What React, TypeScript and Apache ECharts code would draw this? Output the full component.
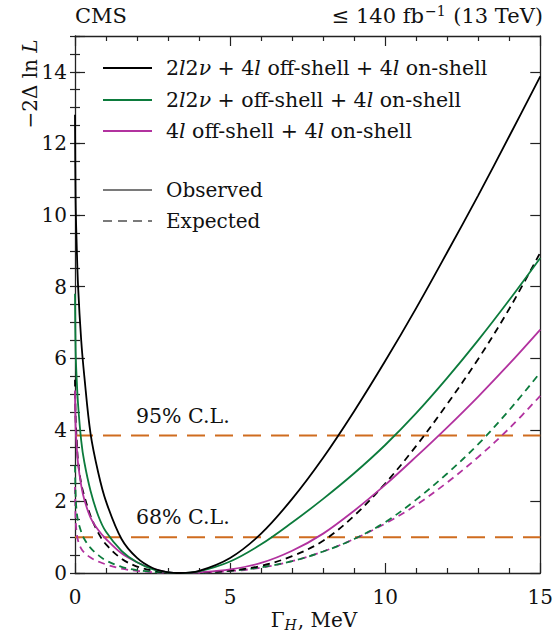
import React, { useEffect, useRef } from 'react';
import * as echarts from 'echarts';

// Γ_H grid (MeV)
const gammaGrid = [0, 0.02, 0.05, 0.1, 0.2, 0.3, 0.5, 0.75, 1, 1.5, 2, 2.5, 3, 3.4, 4, 5, 6, 7, 8, 9, 10, 11, 12, 13, 14, 15];

// -2 Δ ln L values
const obsAll = [12.8, 10.4, 9.3, 8.0, 6.5, 5.5, 3.9, 2.8, 2.0, 0.95, 0.42, 0.14, 0.02, 0, 0.06, 0.42, 1.1, 2.07, 3.22, 4.52, 5.92, 7.4, 8.96, 10.55, 12.2, 13.87];
const obsNo4lOff = [7.8, 6.2, 5.5, 4.7, 3.7, 3.1, 2.3, 1.6, 1.15, 0.62, 0.3, 0.11, 0.02, 0, 0.045, 0.32, 0.8, 1.41, 2.07, 2.785, 3.575, 4.465, 5.45, 6.505, 7.625, 8.8];
const obs4l = [5.1, 4.1, 3.6, 3.05, 2.45, 2.05, 1.55, 1.2, 0.95, 0.55, 0.3, 0.12, 0.02, 0, 0.02, 0.1, 0.28, 0.62, 1.1, 1.74, 2.46, 3.25, 4.07, 4.93, 5.84, 6.8];
const expAll = [5.4, 4.3, 3.8, 3.1, 2.5, 2.15, 1.6, 1.12, 0.8, 0.4, 0.18, 0.07, 0.01, 0, 0.01, 0.07, 0.2, 0.47, 0.9, 1.6, 2.5, 3.55, 4.72, 5.98, 7.38, 8.95];
const expNo4lOff = [3.0, 2.2, 1.75, 1.45, 1.15, 0.95, 0.7, 0.5, 0.35, 0.17, 0.08, 0.03, 0.005, 0, 0.01, 0.06, 0.16, 0.33, 0.6, 0.95, 1.42, 2.05, 2.78, 3.6, 4.55, 5.6];
const exp4l = [2.4, 1.5, 1.15, 0.9, 0.68, 0.57, 0.43, 0.32, 0.24, 0.12, 0.06, 0.02, 0.005, 0, 0.01, 0.05, 0.15, 0.33, 0.6, 0.95, 1.38, 1.9, 2.53, 3.24, 4.04, 4.95];

const clLevels = [1, 3.84];
const clLabels = ['68% C.L.', '95% C.L.'];

const legendLabels = [
  '2{i|l}2{i|ν} + 4{i|l} off-shell + 4{i|l} on-shell',
  '2{i|l}2{i|ν} + off-shell + 4{i|l} on-shell',
  '4{i|l} off-shell + 4{i|l} on-shell',
];
const styleLabels = ['Observed', 'Expected'];

const BLACK = '#000000';
const GREEN = '#0c7b3c';
const MAGENTA = '#b2329f';
const ORANGE = '#cf6c1f';
const GREY = '#7a7a7a';
const FONT = '"DejaVu Serif", serif';

const pairs = (ys: number[]) => gammaGrid.map((g, i) => [g, ys[i]]);

export default function App() {
  const ref = useRef<HTMLDivElement>(null);
  useEffect(() => {
    if (!ref.current) return;
    const chart = echarts.init(ref.current, undefined, { renderer: 'svg' });
    const axisColor = '#222';
    const tickStyle = { color: axisColor, width: 1.2 };

    const curve = (name: string, ys: number[], color: string, dashed: boolean) => ({
      name,
      type: 'line',
      data: pairs(ys),
      showSymbol: false,
      smooth: 0.35,
      clip: true,
      lineStyle: { color, width: 1.8, type: dashed ? [7, 5] : 'solid' },
      z: 3,
    });

    const clSeries = clLevels.map((lvl, i) => ({
      name: clLabels[i],
      type: 'line',
      data: [[0, lvl], [15, lvl]],
      showSymbol: false,
      lineStyle: { color: ORANGE, width: 2, type: [18, 10] },
      z: 2,
    }));

    const legendY = [68, 100, 131];
    const legendColors = [BLACK, GREEN, MAGENTA];
    const styleY = [190, 221];

    const graphic: any[] = [];
    legendLabels.forEach((t, i) => {
      graphic.push({
        type: 'line',
        shape: { x1: 103, y1: legendY[i], x2: 152, y2: legendY[i] },
        style: { stroke: legendColors[i], lineWidth: 2 },
      });
      graphic.push({
        type: 'text',
        x: 166,
        y: legendY[i],
        style: {
          text: t,
          fontFamily: FONT,
          fontSize: 20.5,
          fill: '#111',
          textAlign: 'left',
          textVerticalAlign: 'middle',
          rich: { i: { fontFamily: FONT, fontSize: 20.5, fontStyle: 'italic', fill: '#111' } },
        },
      });
    });
    styleLabels.forEach((t, i) => {
      graphic.push({
        type: 'line',
        shape: { x1: 103, y1: styleY[i], x2: 152, y2: styleY[i] },
        style: { stroke: GREY, lineWidth: 2, lineDash: i === 1 ? [9, 6] : null },
      });
      graphic.push({
        type: 'text',
        x: 166,
        y: styleY[i],
        style: { text: t, fontFamily: FONT, fontSize: 20, fill: '#111', textAlign: 'left', textVerticalAlign: 'middle' },
      });
    });
    // C.L. labels
    graphic.push({
      type: 'text', x: 136, y: 517,
      style: { text: clLabels[0], fontFamily: FONT, fontSize: 20.5, fill: '#111', textAlign: 'left', textVerticalAlign: 'middle' },
    });
    graphic.push({
      type: 'text', x: 136, y: 416,
      style: { text: clLabels[1], fontFamily: FONT, fontSize: 20.5, fill: '#111', textAlign: 'left', textVerticalAlign: 'middle' },
    });
    // header
    graphic.push({
      type: 'text', x: 75, y: 16,
      style: { text: 'CMS', fontFamily: FONT, fontSize: 21, fill: '#111', textAlign: 'left', textVerticalAlign: 'middle' },
    });
    graphic.push({
      type: 'text', x: 543, y: 16,
      style: {
        text: '≤ 140 fb{sup|−1} (13 TeV)',
        fontFamily: FONT, fontSize: 21, fill: '#111', textAlign: 'right', textVerticalAlign: 'middle',
        rich: { sup: { fontFamily: FONT, fontSize: 14, fill: '#111', padding: [0, 1, 11, 1] } },
      },
    });
    // y-axis title
    graphic.push({
      type: 'text', x: 30, y: 84, rotation: Math.PI / 2,
      style: {
        text: '−2Δ ln {i|L}',
        fontFamily: FONT, fontSize: 20, fill: '#111', textAlign: 'center', textVerticalAlign: 'middle',
        rich: { i: { fontFamily: FONT, fontSize: 20, fontStyle: 'italic', fill: '#111' } },
      },
    });
    // x-axis title
    graphic.push({
      type: 'text', x: 314, y: 620,
      style: {
        text: 'Γ{sub|H}, MeV',
        fontFamily: FONT, fontSize: 20, fill: '#111', textAlign: 'center', textVerticalAlign: 'middle',
        rich: { sub: { fontFamily: FONT, fontSize: 14, fontStyle: 'italic', fill: '#111', padding: [10, 1, 0, 0] } },
      },
    });

    const baseX = {
      type: 'value', min: 0, max: 15, interval: 5,
      axisLine: { show: true, onZero: false, lineStyle: { color: axisColor, width: 1.3 } },
      axisTick: { show: true, inside: true, length: 10, lineStyle: tickStyle },
      minorTick: { show: true, splitNumber: 5, length: 5, lineStyle: tickStyle },
      splitLine: { show: false },
    };
    const majorY = {
      type: 'value', min: 0, max: 15, interval: 2,
      axisLine: { show: true, onZero: false, lineStyle: { color: axisColor, width: 1.3 } },
      axisTick: { show: true, inside: true, length: 10, lineStyle: tickStyle },
      splitLine: { show: false },
    };
    const minorY = {
      type: 'value', min: 0, max: 15, interval: 0.5,
      axisLine: { show: false },
      axisTick: { show: true, inside: true, length: 5, lineStyle: tickStyle },
      axisLabel: { show: false },
      splitLine: { show: false },
    };

    chart.setOption({
      animation: false,
      grid: { left: 75, right: 13, top: 36, bottom: 64 },
      xAxis: [
        {
          ...baseX, position: 'bottom',
          axisLabel: { fontFamily: FONT, fontSize: 20, color: '#111', margin: 14 },
        },
        { ...baseX, position: 'top', axisLabel: { show: false } },
      ],
      yAxis: [
        {
          ...majorY, position: 'left',
          axisLabel: {
            fontFamily: FONT, fontSize: 20, color: '#111', margin: 8,
            formatter: (v: number) => (v % 2 === 0 && v < 15 ? String(v) : ''),
          },
        },
        { ...minorY, position: 'left' },
        { ...majorY, position: 'right', axisLabel: { show: false } },
        { ...minorY, position: 'right' },
      ],
      series: [
        ...clSeries,
        curve('exp 4l', exp4l, MAGENTA, true),
        curve('exp 2l2v no4l', expNo4lOff, GREEN, true),
        curve('exp all', expAll, BLACK, true),
        curve('obs 4l', obs4l, MAGENTA, false),
        curve('obs 2l2v no4l', obsNo4lOff, GREEN, false),
        curve('obs all', obsAll, BLACK, false),
      ],
      graphic,
    });
    return () => chart.dispose();
  }, []);
  return <div ref={ref} style={{ position: 'absolute', left: 0, top: 0, width: 556, height: 637 }} />;
}
